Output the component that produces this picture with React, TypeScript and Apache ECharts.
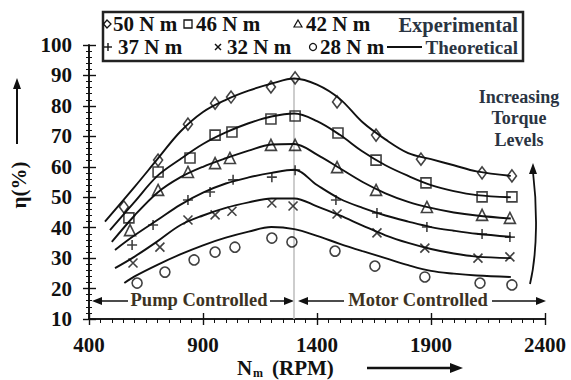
import React, { useEffect, useRef } from "react";
import * as echarts from "echarts";

// ---------- data ----------
const torqueLabels = ["50 N m", "46 N m", "42 N m", "37 N m", "32 N m", "28 N m"];

// experimental points
const expRpm50 = [553, 703, 834, 953, 1023, 1198, 1304, 1488, 1659, 1856, 2124, 2255];
const expEta50 = [46.8, 62.2, 74.0, 80.9, 82.9, 86.2, 89.2, 81.3, 70.4, 62.5, 58.0, 57.0];
const expRpm46 = [575, 703, 843, 953, 1027, 1198, 1304, 1492, 1659, 1878, 2124, 2255];
const expEta46 = [43.2, 58.3, 62.9, 70.4, 71.4, 75.7, 76.7, 71.1, 62.2, 54.7, 50.1, 50.1];
const expRpm42 = [580, 703, 834, 953, 1018, 1198, 1304, 1488, 1659, 1882, 2124, 2246];
const expEta42 = [39.2, 52.4, 58.3, 61.2, 62.9, 67.2, 67.2, 59.9, 52.4, 46.8, 44.2, 43.2];
const expRpm37 = [589, 681, 834, 931, 1032, 1202, 1304, 1483, 1663, 1882, 2124, 2246];
const expEta37 = [34.3, 40.9, 49.1, 51.7, 55.7, 56.6, 58.9, 49.1, 44.8, 40.2, 37.9, 36.9];
const expRpm32 = [593, 711, 834, 953, 1027, 1202, 1295, 1488, 1663, 1873, 2106, 2246];
const expEta32 = [28.4, 33.6, 42.5, 44.2, 45.4, 48.1, 47.1, 44.5, 38.3, 33.3, 30.0, 30.4];
const expRpm28 = [611, 733, 861, 953, 1040, 1202, 1290, 1479, 1654, 1873, 2115, 2255];
const expEta28 = [21.8, 25.4, 29.4, 32.0, 33.6, 36.6, 35.3, 32.3, 27.4, 23.8, 21.8, 21.2];

// theoretical curves
const thRpmCommon = [600, 700, 800, 900, 1000, 1100, 1200, 1300, 1400, 1500, 1600, 1700, 1800, 1900, 2000, 2100, 2250];
const thStart = [470, 492, 500, 514, 514, 555];
const th50 = [42, 53.4, 62.5, 71.5, 78, 82, 85, 87.3, 89, 87, 82.3, 74.6, 69, 64.5, 62.5, 60.5, 58.5, 57];
const th46 = [39.2, 48.5, 57, 62.5, 67.5, 71.3, 74.3, 76.5, 77.5, 75, 70.5, 65, 60.5, 57, 54, 52, 50.7, 50];
const th42 = [35.3, 44, 51.5, 56.5, 60, 62.8, 65.3, 67.3, 67.5, 64, 59.5, 55, 51.3, 48.5, 46.5, 45, 44, 43];
const th37 = [32.7, 37.5, 42.5, 47.5, 51.5, 54.5, 56.5, 58, 59, 54, 49.5, 46.5, 44, 42, 40.2, 39, 38, 37];
const th32 = [26.7, 30.5, 35.5, 40.8, 44, 46.5, 48.3, 49.6, 49.6, 47, 44, 40.7, 37.5, 35, 33, 31.5, 30.5, 30];
const th28 = [21.8, 24, 27.8, 31.2, 34.2, 36.7, 38.7, 40.2, 39.5, 37.3, 34.7, 32.3, 30, 27.7, 25.8, 24.9, 24.3, 23.8];

const dividerRpm = 1300;
const dividerTop = 89;
const xMin = 400, xMax = 2400, xInterval = 500;
const yMin = 10, yMax = 100, yInterval = 10;

const FONT = "'Liberation Serif', 'Times New Roman', serif";
const INK = "#111";

const PLUS = "path://M0,5L10,5M5,0L5,10";
const CROSS = "path://M1,1L9,9M9,1L1,9";

export default function App() {
  const ref = useRef<HTMLDivElement>(null);
  useEffect(() => {
    document.body.style.margin = "0";
    if (!ref.current) return;
    const chart = echarts.init(ref.current, undefined, { renderer: "svg" });

    const exp = [
      { rpm: expRpm50, eta: expEta50, symbol: "diamond", size: [9, 12] },
      { rpm: expRpm46, eta: expEta46, symbol: "rect", size: 10 },
      { rpm: expRpm42, eta: expEta42, symbol: "triangle", size: 11 },
      { rpm: expRpm37, eta: expEta37, symbol: PLUS, size: 10 },
      { rpm: expRpm32, eta: expEta32, symbol: CROSS, size: 9 },
      { rpm: expRpm28, eta: expEta28, symbol: "circle", size: 10 },
    ];
    const th = [th50, th46, th42, th37, th32, th28];

    const series: any[] = [];
    th.forEach((vals, i) => {
      const rpm = [thStart[i], ...thRpmCommon];
      const s: any = {
        type: "line",
        name: "Theoretical " + torqueLabels[i],
        data: rpm.map((r, k) => [r, vals[k]]),
        symbol: "none",
        smooth: 0.35,
        lineStyle: { color: INK, width: 1.9 },
        z: 3,
      };
      if (i === 0) {
        s.markLine = {
          silent: true,
          symbol: "none",
          label: { show: false },
          lineStyle: { color: "#bdbdbd", width: 1.5, type: "solid" },
          data: [[{ coord: [dividerRpm, dividerTop] }, { coord: [dividerRpm, yMin] }]],
          z: 1,
        };
      }
      series.push(s);
    });
    exp.forEach((e, i) => {
      series.push({
        type: "scatter",
        name: torqueLabels[i],
        data: e.rpm.map((r, k) => [r, e.eta[k]]),
        symbol: e.symbol,
        symbolSize: e.size,
        itemStyle: { color: "rgba(0,0,0,0)", borderColor: INK, borderWidth: 1.6 },
        z: 4,
      });
    });

    const axisLine = { show: true, onZero: false, lineStyle: { color: INK, width: 1.6 } };
    const labelStyle = { fontFamily: FONT, fontWeight: "bold", color: INK, formatter: (v: number) => String(v) };

    const headR = (x: number, y: number) => ({ type: "polygon", shape: { points: [[x, y], [x - 10, y - 4], [x - 10, y + 4]] }, style: { fill: INK } });
    const headL = (x: number, y: number) => ({ type: "polygon", shape: { points: [[x, y], [x + 10, y - 4], [x + 10, y + 4]] }, style: { fill: INK } });
    const hline = (x1: number, x2: number, y: number, w = 1.5) => ({ type: "line", shape: { x1, y1: y, x2, y2: y }, style: { stroke: INK, lineWidth: w } });
    const txt = (x: number, y: number, text: string, size: number, extra: any = {}) => ({
      type: "text",
      x,
      y,
      style: { text, font: `bold ${size}px ${FONT}`, fill: INK, textVerticalAlign: "middle", ...extra },
    });

    const ctrlColor = "#3d3222";
    const legColor = "#2a3442";
    const r1 = 24, r2 = 47;

    const graphic: any[] = [
      // legend box
      { type: "rect", shape: { x: 103, y: 12, width: 420, height: 49 }, style: { fill: "#fff", stroke: "#222", lineWidth: 2.5 }, z: 10 },
      { type: "polygon", shape: { points: [[107, r1 - 4], [111, r1], [107, r1 + 4], [103.5, r1]] }, style: { fill: "none", stroke: INK, lineWidth: 1.3 }, z: 11 },
      { ...txt(113, r1, torqueLabels[0], 21), z: 11 },
      { type: "rect", shape: { x: 184, y: r1 - 4, width: 8, height: 8 }, style: { fill: "none", stroke: INK, lineWidth: 1.3 }, z: 11 },
      { ...txt(196, r1, torqueLabels[1], 21), z: 11 },
      { type: "polygon", shape: { points: [[298, r1 - 4], [302, r1 + 3], [294, r1 + 3]] }, style: { fill: "none", stroke: INK, lineWidth: 1.2 }, z: 11 },
      { ...txt(306, r1, torqueLabels[2], 21), z: 11 },
      { ...txt(518, r1 + 1, "Experimental", 20.5, { textAlign: "right", fill: legColor }), z: 11 },
      { type: "line", shape: { x1: 104, y1: r2, x2: 112, y2: r2 }, style: { stroke: INK, lineWidth: 1.4 }, z: 11 },
      { type: "line", shape: { x1: 108, y1: r2 - 4, x2: 108, y2: r2 + 4 }, style: { stroke: INK, lineWidth: 1.4 }, z: 11 },
      { ...txt(118, r2, torqueLabels[3], 21), z: 11 },
      { type: "line", shape: { x1: 215, y1: r2 - 3, x2: 221, y2: r2 + 3 }, style: { stroke: INK, lineWidth: 1.4 }, z: 11 },
      { type: "line", shape: { x1: 221, y1: r2 - 3, x2: 215, y2: r2 + 3 }, style: { stroke: INK, lineWidth: 1.4 }, z: 11 },
      { ...txt(227, r2, torqueLabels[4], 21), z: 11 },
      { type: "circle", shape: { cx: 313, cy: r2, r: 3.5 }, style: { fill: "none", stroke: INK, lineWidth: 1.3 }, z: 11 },
      { ...txt(320, r2, torqueLabels[5], 21), z: 11 },
      { type: "line", shape: { x1: 387, y1: r2, x2: 422, y2: r2 }, style: { stroke: INK, lineWidth: 2 }, z: 11 },
      { ...txt(518, r2, "Theoretical", 19, { textAlign: "right", fill: legColor }), z: 11 },

      // y-axis title + arrow
      {
        type: "text",
        x: 19,
        y: 185,
        rotation: Math.PI / 2,
        style: { text: "η(%)", font: `bold 21px ${FONT}`, fill: INK, textAlign: "center", textVerticalAlign: "middle" },
      },
      { type: "line", shape: { x1: 17, y1: 144, x2: 17, y2: 88 }, style: { stroke: INK, lineWidth: 2 } },
      { type: "polygon", shape: { points: [[17, 78], [13, 89], [21, 89]] }, style: { fill: INK } },

      // x-axis title + arrow
      txt(237, 368, "N", 21),
      txt(253, 373, "m", 12),
      txt(272, 368, "(RPM)", 21),
      { type: "line", shape: { x1: 367, y1: 368, x2: 452, y2: 368 }, style: { stroke: INK, lineWidth: 2.5 } },
      { type: "polygon", shape: { points: [[463, 368], [450, 363], [450, 373]] }, style: { fill: INK } },

      // control regions
      headL(92, 301),
      hline(100, 128, 301),
      txt(199, 300, "Pump Controlled", 18.5, { textAlign: "center", fill: ctrlColor }),
      hline(270, 286, 301),
      headR(294, 301),
      headL(298, 301),
      hline(306, 344, 301),
      txt(418, 300, "Motor Controlled", 18.5, { textAlign: "center", fill: ctrlColor }),
      hline(492, 537, 301),
      headR(546, 301),

      // increasing torque annotation
      txt(519, 97, "Increasing", 18, { textAlign: "center", fill: legColor }),
      txt(519, 118, "Torque", 18, { textAlign: "center", fill: legColor }),
      txt(519, 140, "Levels", 18, { textAlign: "center", fill: legColor }),
      {
        type: "bezierCurve",
        shape: { x1: 530, y1: 284, x2: 533, y2: 172, cpx1: 538, cpy1: 250, cpx2: 537, cpy2: 205 },
        style: { stroke: INK, lineWidth: 1.8, fill: "none" },
      },
      { type: "polygon", shape: { points: [[533, 163], [529, 174], [537, 174]] }, style: { fill: INK } },
    ];

    chart.setOption({
      animation: false,
      backgroundColor: "#fff",
      grid: { left: 89, right: 26, top: 45, bottom: 61 },
      xAxis: [
        {
          type: "value",
          min: xMin,
          max: xMax,
          interval: xInterval,
          position: "bottom",
          axisLine,
          axisTick: { show: true, inside: true, length: 6, lineStyle: { color: INK, width: 1.4 } },
          minorTick: { show: false },
          axisLabel: { show: false },
          splitLine: { show: false },
        },
        {
          type: "value",
          min: xMin,
          max: xMax,
          interval: xInterval,
          position: "bottom",
          offset: 0,
          axisLine,
          axisTick: { show: true, inside: false, length: 6, lineStyle: { color: INK, width: 1.4 } },
          minorTick: { show: true, splitNumber: 10, length: 4, lineStyle: { color: INK, width: 1 } },
          axisLabel: { ...labelStyle, fontSize: 21, margin: 15 },
          splitLine: { show: false },
        },
      ],
      yAxis: [
        {
          type: "value",
          min: yMin,
          max: yMax,
          interval: yInterval,
          position: "left",
          axisLine,
          axisTick: { show: true, inside: true, length: 7, lineStyle: { color: INK, width: 1.4 } },
          minorTick: { show: true, splitNumber: 5, length: 3, lineStyle: { color: INK, width: 1 } },
          axisLabel: { show: false },
          splitLine: { show: false },
        },
        {
          type: "value",
          min: yMin,
          max: yMax,
          interval: yInterval,
          position: "left",
          offset: 0,
          axisLine,
          axisTick: { show: true, inside: false, length: 6, lineStyle: { color: INK, width: 1.4 } },
          minorTick: { show: true, splitNumber: 5, length: 3, lineStyle: { color: INK, width: 1 } },
          axisLabel: { ...labelStyle, fontSize: 21, margin: 17 },
          splitLine: { show: false },
        },
      ],
      series,
      graphic,
    });
    return () => chart.dispose();
  }, []);
  return <div ref={ref} style={{ width: 571, height: 380 }} />;
}
